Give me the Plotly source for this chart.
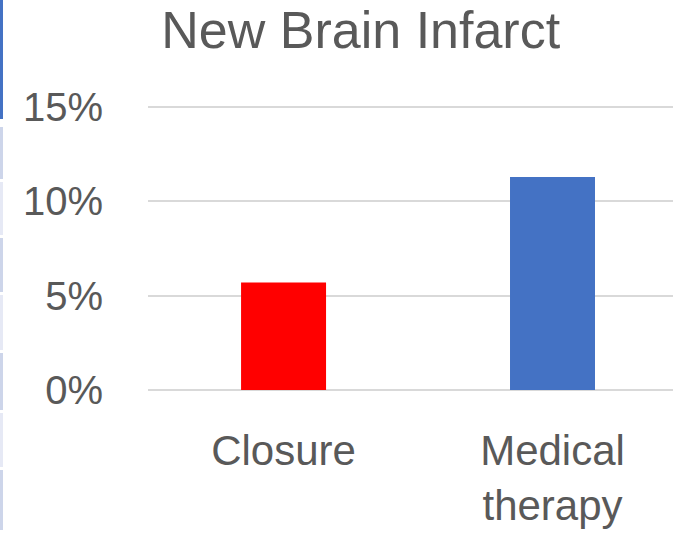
import plotly.graph_objects as go

categories = ["Closure", "Medical<br>therapy"]
values = [0.057, 0.113]
colors = ["#ff0000", "#4472c4"]
tick_vals = [0, 0.05, 0.10, 0.15]

fig = go.Figure(go.Bar(x=categories, y=values, marker=dict(color=colors, line=dict(width=0)), width=0.316))

font = "Liberation Sans, Arial, sans-serif"
fig.update_layout(
    width=673, height=533,
    margin=dict(l=148, r=0, t=106, b=143, autoexpand=False),
    paper_bgcolor="white", plot_bgcolor="white",
    showlegend=False,
    title=dict(text="New Brain Infarct", x=0.536, xanchor="center", y=0.945, yanchor="middle",
               font=dict(family=font, size=52, color="#595959")),
    font=dict(family=font, color="#595959"),
)
fig.update_xaxes(type="category", range=[-0.504, 1.448], showgrid=False, showline=False,
                 ticks="", tickfont=dict(size=42, color="#595959"), ticklabelstandoff=32)
fig.update_yaxes(range=[0, 0.1506], tickvals=tick_vals, tickformat=".0%", showgrid=True,
                 gridcolor="#d9d9d9", gridwidth=1.5, zeroline=True, zerolinecolor="#d9d9d9",
                 zerolinewidth=1.5, showline=False, ticks="",
                 tickfont=dict(size=40, color="#595959"), ticklabelstandoff=44)

# decorative left-edge strip (page pixel rows)
segs = [(0, 119, "#4472c4"), (127, 179, "#cdd5ea"), (182, 235, "#e6e9f5"), (238, 292, "#cdd5ea"),
        (295, 350, "#e6e9f5"), (353, 410, "#cdd5ea"), (413, 467, "#e6e9f5"), (470, 530, "#cdd5ea")]
for y0, y1, c in segs:
    fig.add_shape(type="rect", xref="paper", yref="paper",
                  x0=-148/525, x1=-145/525, y0=(390 - y1)/284, y1=(390 - y0)/284,
                  fillcolor=c, line=dict(width=0), layer="above")

fig.write_html("out.html", config={"displayModeBar": False},
               post_script="document.body.style.margin='0';")
